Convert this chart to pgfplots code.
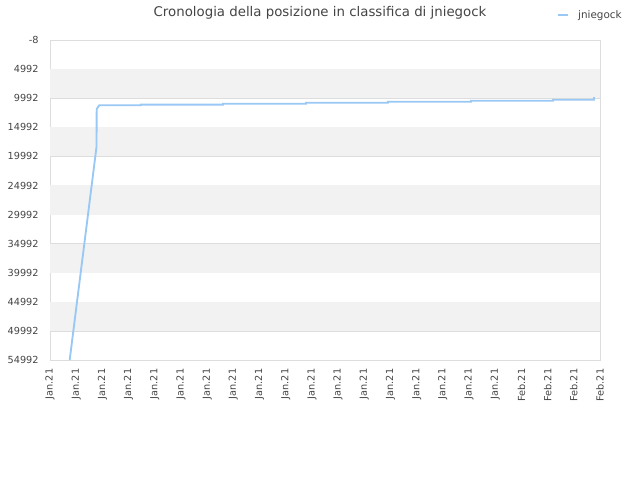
\documentclass[border=0pt]{standalone}
\usepackage{pgfplots}
\pgfplotsset{compat=1.18}
\usepackage{fontspec}
\setmainfont{DejaVu Sans}
\definecolor{linecol}{HTML}{99C8F5}
\definecolor{bandcol}{HTML}{F2F2F2}
\definecolor{gridcol}{HTML}{DDDDDD}
\definecolor{txtcol}{HTML}{444444}
\begin{document}
\begin{tikzpicture}
\path[use as bounding box] (0pt,0pt) rectangle (480pt,360pt);
\node[text=txtcol, font=\fontsize{10}{12}\selectfont] at (240pt,350.5pt) {Cronologia della posizione in classifica di jniegock};
\begin{axis}[
    at={(37.5pt,90pt)}, anchor=south west,
    scale only axis, width=412.5pt, height=240pt,
    xmin=0, xmax=21,
    ymin=-8, ymax=54992,
    y dir=reverse,
    axis line style={gridcol},
    major tick length=0pt,
    scaled y ticks=false,
    ytick={-8,4992,9992,14992,19992,24992,29992,34992,39992,44992,49992,54992},
    yticklabels={-8,4992,9992,14992,19992,24992,29992,34992,39992,44992,49992,54992},
    yticklabel style={font=\fontsize{7.3}{8}\selectfont, text=txtcol, xshift=-5pt},
    xtick={0,...,21},
    xticklabels={Jan.21,Jan.21,Jan.21,Jan.21,Jan.21,Jan.21,Jan.21,Jan.21,Jan.21,Jan.21,Jan.21,Jan.21,Jan.21,Jan.21,Jan.21,Jan.21,Jan.21,Jan.21,Feb.21,Feb.21,Feb.21,Feb.21},
    xticklabel style={font=\fontsize{7.3}{8}\selectfont, text=txtcol, rotate=90, anchor=east},
    xticklabel shift=3pt,
    ymajorgrids, grid style={gridcol},
    legend style={at={(1.052,1.078)}, anchor=east, draw=none, fill=none, column sep=5pt, font=\fontsize{7.8}{9}\selectfont, text=txtcol},
    legend image code/.code={\draw[#1] (0pt,0pt) -- (7.5pt,0pt);},
    clip=true,
]
\fill[bandcol] (axis cs:0,4992) rectangle (axis cs:21,9992);
\fill[bandcol] (axis cs:0,14992) rectangle (axis cs:21,19992);
\fill[bandcol] (axis cs:0,24992) rectangle (axis cs:21,29992);
\fill[bandcol] (axis cs:0,34992) rectangle (axis cs:21,39992);
\fill[bandcol] (axis cs:0,44992) rectangle (axis cs:21,49992);
\addplot[linecol, line width=1.4pt, no marks] coordinates {
    (0.752,54992) (1.737,19758) (1.775,18383) (1.783,11851) (1.882,11215)
    (3.463,11215) (3.463,11104) (6.606,11104) (6.606,10940)
    (9.775,10940) (9.775,10768) (12.905,10768) (12.905,10597)
    (16.075,10597) (16.075,10425) (19.206,10425) (19.206,10253)
    (20.77,10253) (20.77,9789)
};
\addlegendentry{jniegock}
\end{axis}
\end{tikzpicture}
\end{document}
